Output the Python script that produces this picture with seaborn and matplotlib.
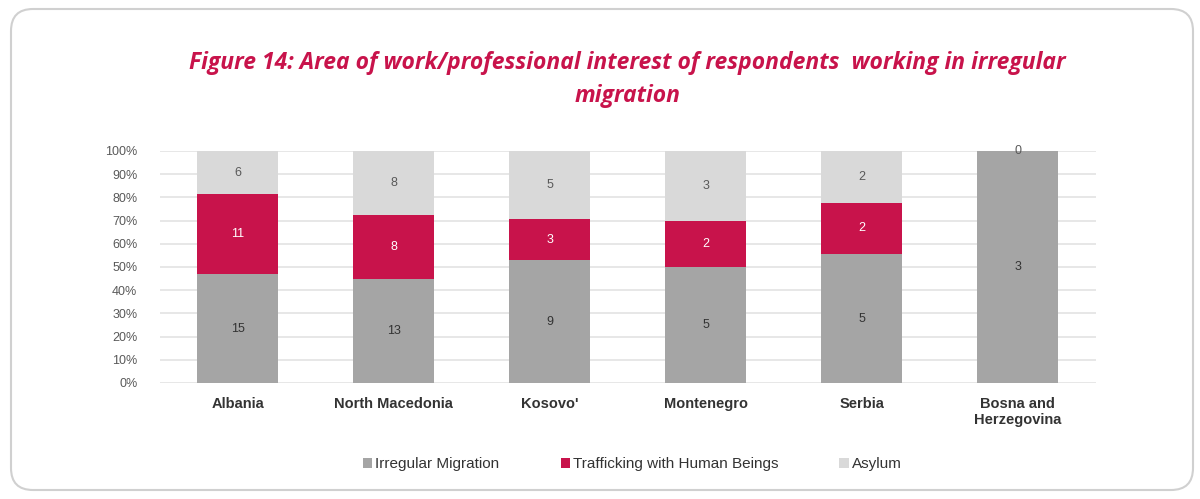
import matplotlib.pyplot as plt
import seaborn as sns
import pandas as pd
from matplotlib.patches import FancyBboxPatch
from matplotlib.ticker import PercentFormatter

countries = ['Albania', 'North Macedonia', "Kosovo'", 'Montenegro', 'Serbia', 'Bosna and\nHerzegovina']
irregular = [15, 13, 9, 5, 5, 3]
trafficking = [11, 8, 3, 2, 2, 0]
asylum = [6, 8, 5, 3, 2, 0]

series_names = ['Irregular Migration', 'Trafficking with Human Beings', 'Asylum']
series_colors = ['#A5A5A5', '#C8134B', '#D9D9D9']
label_colors = ['#333333', 'white', '#595959']

totals = [a + b + c for a, b, c in zip(irregular, trafficking, asylum)]

sns.set_style('white')
plt.rcParams['font.family'] = ['Liberation Sans', 'DejaVu Sans']

fig = plt.figure(figsize=(12, 4.99), dpi=100)
ax = fig.add_axes([0.133, 0.2325, 0.78, 0.4649])

bottom = [0.0] * len(countries)
for name, counts, color, lcolor in zip(series_names, [irregular, trafficking, asylum], series_colors, label_colors):
    share = [c / t * 100 for c, t in zip(counts, totals)]
    df = pd.DataFrame({'country': countries, 'share': share})
    sns.barplot(data=df, x='country', y='share', color=color, width=0.52,
                bottom=bottom, ax=ax, label=name, saturation=1, linewidth=0)
    container = ax.containers[-1]
    labels = [str(c) if (c > 0 or name == 'Asylum') else '' for c in counts]
    ax.bar_label(container, labels=labels, label_type='center', fontsize=9, color=lcolor)
    bottom = [b + s for b, s in zip(bottom, share)]

ax.set_ylim(0, 100)
ax.set_yticks(range(0, 101, 10))
ax.yaxis.set_major_formatter(PercentFormatter(decimals=0))
ax.set_axisbelow(True)
ax.grid(axis='y', color='#E3E3E3', linewidth=1.2)
sns.despine(ax=ax, left=True, bottom=True)
ax.set_xlabel('')
ax.set_ylabel('')
ax.tick_params(axis='y', labelsize=9, colors='#595959', length=0, pad=16)
ax.tick_params(axis='x', labelsize=10.5, colors='#333333', length=0, pad=10)
for lab in ax.get_xticklabels():
    lab.set_fontweight('bold')

ax.legend(loc='center', bbox_to_anchor=(0.505, -0.35), ncol=3, frameon=False,
          fontsize=11, handlelength=0.6, handleheight=0.6, handletextpad=0.2,
          columnspacing=4.0, labelcolor='#333333')

fig.text(0.523, 0.84, 'Figure 14: Area of work/professional interest of respondents  working in irregular\nmigration',
         ha='center', va='center', fontsize=16.5, fontweight='bold', style='italic',
         color='#C8134B', family=['Open Sans', 'DejaVu Sans'], linespacing=1.5)

border = FancyBboxPatch((11, 9), 1182, 481, boxstyle='round,pad=0,rounding_size=22',
                        transform=None, facecolor='none', edgecolor='#D0D0D0', linewidth=1.5)
fig.add_artist(border)

plt.savefig('out.png', dpi=100)
plt.close('all')
